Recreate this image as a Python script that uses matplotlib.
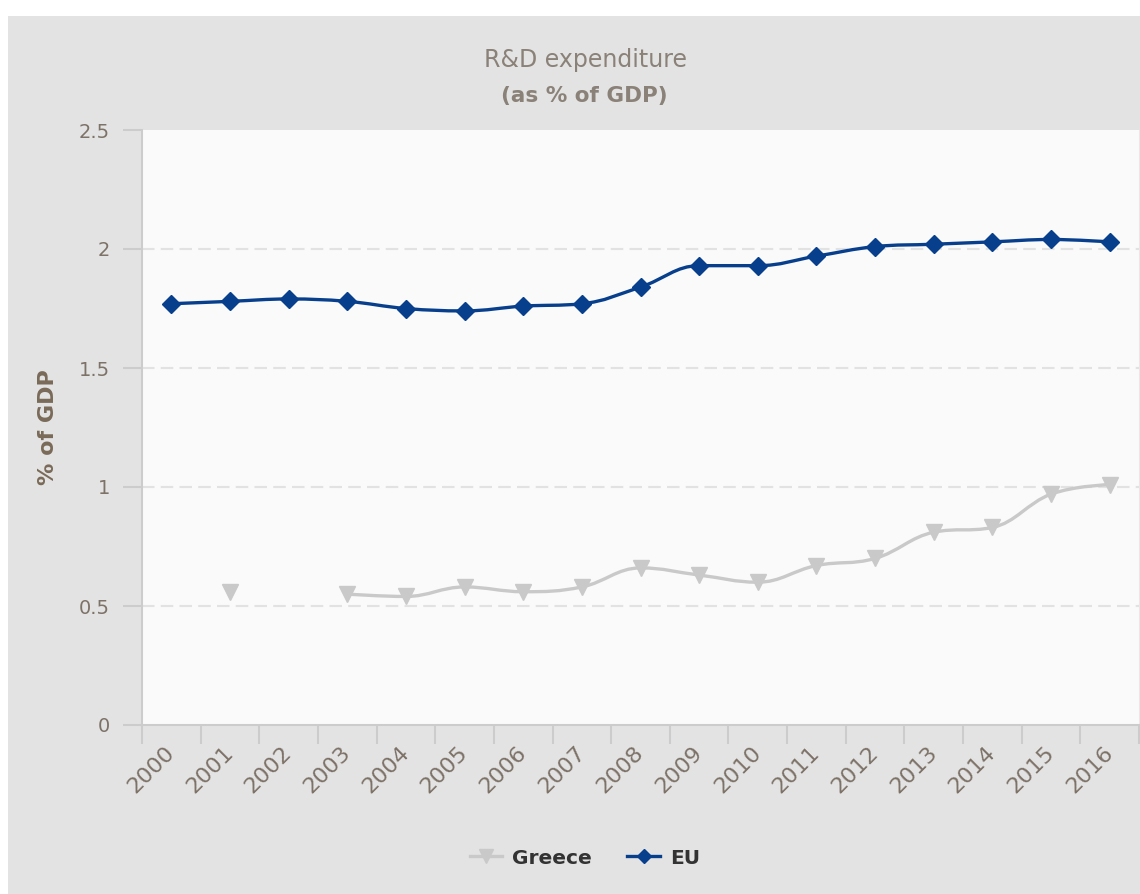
import matplotlib.pyplot as plt
from matplotlib.path import Path
from matplotlib.patches import PathPatch, Rectangle
from matplotlib.lines import Line2D

years = [str(y) for y in range(2000, 2017)]
eu = [1.77, 1.78, 1.79, 1.78, 1.75, 1.74, 1.76, 1.77, 1.84, 1.93,
      1.93, 1.97, 2.01, 2.02, 2.03, 2.04, 2.03]
greece = [None, 0.56, None, 0.55, 0.54, 0.58, 0.56, 0.58, 0.66, 0.63,
          0.60, 0.67, 0.70, 0.81, 0.83, 0.97, 1.01]

EU_COL = '#073f8c'
GR_COL = '#c9c9c9'
TICK_COL = '#7d7268'


def spline_path(xs, ys, smoothing=1.5):
    # bezier spline through the points, same control point rule as highcharts
    n = len(xs)
    left = [(xs[i], ys[i]) for i in range(n)]
    right = [(xs[i], ys[i]) for i in range(n)]
    d = smoothing + 1
    for i in range(1, n - 1):
        x, y = xs[i], ys[i]
        lx, ly = xs[i - 1], ys[i - 1]
        nx, ny = xs[i + 1], ys[i + 1]
        lcx, lcy = (smoothing * x + lx) / d, (smoothing * y + ly) / d
        rcx, rcy = (smoothing * x + nx) / d, (smoothing * y + ny) / d
        corr = (rcy - lcy) * (rcx - x) / (rcx - lcx) + y - rcy
        lcy += corr
        rcy += corr
        if lcy > ly and lcy > y:
            lcy = max(ly, y)
            rcy = 2 * y - lcy
        elif lcy < ly and lcy < y:
            lcy = min(ly, y)
            rcy = 2 * y - lcy
        if rcy > ny and rcy > y:
            rcy = max(ny, y)
            lcy = 2 * y - rcy
        elif rcy < ny and rcy < y:
            rcy = min(ny, y)
            lcy = 2 * y - rcy
        left[i] = (lcx, lcy)
        right[i] = (rcx, rcy)
    verts = [(xs[0], ys[0])]
    codes = [Path.MOVETO]
    for i in range(1, n):
        verts += [right[i - 1], left[i], (xs[i], ys[i])]
        codes += [Path.CURVE4] * 3
    return Path(verts, codes)


def segments(vals):
    segs, cur = [], []
    for i, v in enumerate(vals):
        if v is None:
            if cur:
                segs.append(cur)
            cur = []
        else:
            cur.append((i, v))
    if cur:
        segs.append(cur)
    return segs


def draw_series(ax, vals, color, marker, ms, lw):
    for seg in segments(vals):
        xs = [p[0] for p in seg]
        ys = [p[1] for p in seg]
        if len(seg) > 1:
            ax.add_patch(PathPatch(spline_path(xs, ys), fill=False, edgecolor=color,
                                   lw=lw, capstyle='round', joinstyle='round', zorder=3))
        ax.plot(xs, ys, ls='none', marker=marker, ms=ms, color=color,
                mec=color, zorder=4)


fig = plt.figure(figsize=(11.4, 8.94), dpi=100)
fig.patch.set_facecolor('white')
fig.patches.append(Rectangle((8 / 1140, 0), 1, 1 - 16 / 894, transform=fig.transFigure,
                             facecolor='#e3e3e3', edgecolor='none', zorder=-5))

ax = fig.add_axes([142 / 1140, 169 / 894, 997 / 1140, 595 / 894])
ax.set_facecolor('#fafafa')
ax.set_xlim(-0.5, len(years) - 0.5)
ax.set_ylim(0, 2.5)

for g in [0.5, 1, 1.5, 2]:
    ax.axhline(g, color='#e2e2e2', lw=1.5, dashes=(6, 3), zorder=1)

draw_series(ax, greece, GR_COL, 'v', 11, 2.4)
draw_series(ax, eu, EU_COL, 'D', 9.5, 2.4)

ax.spines['top'].set_visible(False)
ax.spines['right'].set_color('#e8e8e8')
ax.spines['left'].set_color('#cccccc')
ax.spines['bottom'].set_color('#cccccc')
ax.spines['left'].set_linewidth(1.5)
ax.spines['bottom'].set_linewidth(1.5)

ax.set_yticks([0, 0.5, 1, 1.5, 2, 2.5])
ax.set_yticklabels(['0', '0.5', '1', '1.5', '2', '2.5'])
ax.tick_params(axis='y', length=14, width=1.5, color='#cccccc', pad=9,
               labelsize=14, labelcolor=TICK_COL)

ax.set_xticks(range(len(years)))
ax.set_xticklabels(years, rotation=45, ha='right', va='center', rotation_mode='anchor')
ax.set_xticks([i - 0.5 for i in range(len(years) + 1)], minor=True)
ax.tick_params(axis='x', which='major', length=0, pad=18, labelsize=16, labelcolor=TICK_COL)
ax.tick_params(axis='x', which='minor', length=14, width=1.5, color='#cccccc')

ax.set_ylabel('% of GDP', fontsize=16, fontweight='bold', color='#7a6a58')
ax.yaxis.set_label_coords(-0.084, 0.5)

fig.text(585 / 1140, 1 - 60 / 894, 'R&D expenditure', ha='center', va='center',
         fontsize=17, color='#8a8178')
fig.text(584 / 1140, 1 - 96 / 894, '(as % of GDP)', ha='center', va='center',
         fontsize=15.5, fontweight='bold', color='#8a8178')

handles = [Line2D([], [], color=GR_COL, lw=2.4, marker='v', ms=10),
           Line2D([], [], color=EU_COL, lw=2.4, marker='D', ms=7.5)]
leg = fig.legend(handles, ['Greece', 'EU'], loc='center', ncol=2,
                 bbox_to_anchor=(585 / 1140, 1 - 858 / 894), frameon=False,
                 handlelength=1.6, columnspacing=1.75, handletextpad=0.5,
                 prop={'size': 14.5, 'weight': 'bold'})
for t in leg.get_texts():
    t.set_color('#333333')

fig.savefig('out.png', dpi=100)
